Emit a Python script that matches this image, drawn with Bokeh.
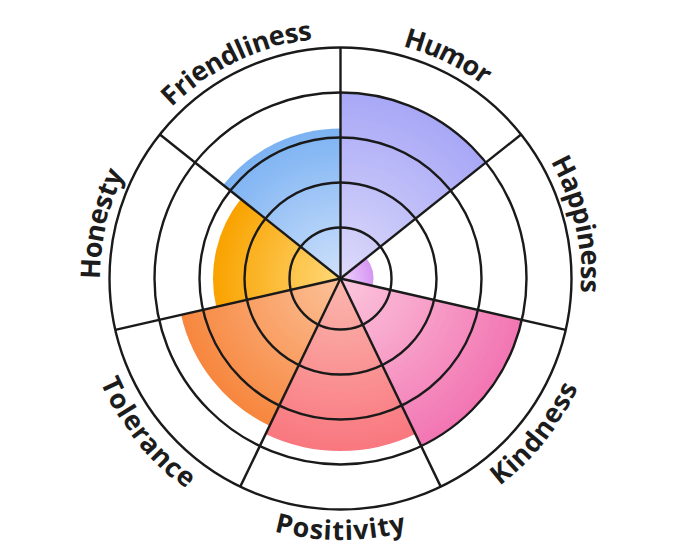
import numpy as np
from bokeh.plotting import figure
from bokeh.core.properties import value
from bokeh.embed import file_html
from bokeh.resources import INLINE

# ---- data ----
categories = ["Humor", "Happiness", "Kindness", "Positivity", "Tolerance", "Honesty", "Friendliness"]
scores = [4.0, 0.6, 4.0, 3.7, 3.5, 2.7, 3.2]
ring_values = [1, 2, 3, 4, 5]

# ---- styles ----
inner_colors = ["#dedbfa", "#f0d6fb", "#fcc8de", "#fbb8ae", "#fcc29a", "#ffd97a", "#cfe1fb"]
outer_colors = ["#a8a8f7", "#d696f3", "#f276b3", "#f97880", "#f7873f", "#f9a300", "#7db3f3"]
LINE = "#1a1a1a"
TEXT = "#1c1c1c"

W, H = 664, 549
CX, CY = 340, 278
R0, STEP = 6.0, 45.0


def rad(v):
    return R0 + STEP * v


def hex2rgb(h):
    h = h.lstrip("#")
    return np.array([int(h[i:i + 2], 16) for i in (0, 2, 4)], dtype=float)


def mix(c1, c2, t):
    a, b = hex2rgb(c1), hex2rgb(c2)
    c = a + (b - a) * t
    return "#%02x%02x%02x" % tuple(int(round(x)) for x in c)


p = figure(width=W, height=H, x_range=(-CX, W - CX), y_range=(-(H - CY), CY),
           output_backend="svg", toolbar_location=None, min_border=0,
           x_axis_location=None, y_axis_location=None)
p.grid.visible = False
p.outline_line_color = None
p.background_fill_color = "white"

n = len(categories)
step_ang = 2 * np.pi / n
N = 50

# gradient sectors (painter's order: outer first)
for i, (cat, sc) in enumerate(zip(categories, scores)):
    th0, th1 = i * step_ang, (i + 1) * step_ang
    start = np.pi / 2 - th1
    end = np.pi / 2 - th0
    rout = rad(sc) if sc > 0 else 0
    ks = np.arange(N, 0, -1)
    radii = rout * ks / N
    cols = [mix(inner_colors[i], outer_colors[i], k / N) for k in ks]
    p.wedge(x=[0] * N, y=[0] * N, radius=radii, start_angle=[start] * N, end_angle=[end] * N,
            fill_color=cols, line_color=None)

# rings
p.circle(x=[0] * len(ring_values), y=[0] * len(ring_values),
         radius=[rad(v) for v in ring_values], fill_color=None,
         line_color=LINE, line_width=2.4)

# spokes
angs = np.arange(n) * step_ang
rmax = rad(max(ring_values))
p.segment(x0=[0] * n, y0=[0] * n, x1=list(rmax * np.sin(angs)), y1=list(rmax * np.cos(angs)),
          line_color=LINE, line_width=2.4)

# curved labels
CW = {"F": 0.58, "H": 0.76, "K": 0.65, "P": 0.61, "T": 0.57,
      "a": 0.59, "c": 0.50, "d": 0.62, "e": 0.59, "i": 0.30, "l": 0.30,
      "m": 0.94, "n": 0.63, "o": 0.61, "p": 0.62, "r": 0.43, "s": 0.49,
      "t": 0.44, "u": 0.63, "v": 0.56, "y": 0.56, "b": 0.62, "h": 0.63}
FS = 27
SPACING = 0.5
RB_TOP = 251.0
RB_BOT = 251.0

xs, ys, chs, rots = [], [], [], []
for i, cat in enumerate(categories):
    thc = (i + 0.5) * step_ang
    adv = [CW.get(ch, 0.6) * FS for ch in cat]
    total = sum(adv) + SPACING * (len(cat) - 1)
    top = np.cos(thc) > 0
    r = RB_TOP if top else RB_BOT
    pos = 0.0
    for ch, a in zip(cat, adv):
        s = pos + a / 2 - total / 2
        pos += a + SPACING
        if top:
            th = thc + s / r
            rot = -th
        else:
            th = thc - s / r
            rot = np.pi - th
        xs.append(r * np.sin(th))
        ys.append(r * np.cos(th))
        chs.append(ch)
        rots.append(rot)

p.text(x=xs, y=ys, text=chs, angle=rots, text_align="center", text_baseline="alphabetic",
       text_font=value("Open Sans"), text_font_style="bold", text_font_size=f"{FS}px",
       text_color=TEXT)

open("out.html", "w").write(file_html(p, INLINE))
